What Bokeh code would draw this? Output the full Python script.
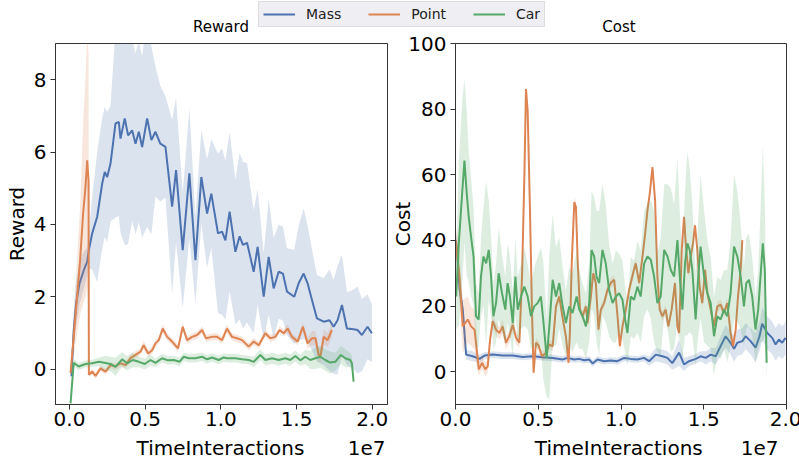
import numpy as np
from bokeh.plotting import figure
from bokeh.layouts import column, row
from bokeh.models import Range1d, Legend, LegendItem, Label, NumeralTickFormatter, FixedTicker
from bokeh.embed import file_html
from bokeh.resources import INLINE

FONT = "DejaVu Sans"
BLUE, ORANGE, GREEN = "#4c72b0", "#dd8452", "#55a868"
SPINE = "#333333"

# ---------------- data (TimeInteractions in units of 1e7) ----------------
series_names = ["Mass", "Point", "Car"]
x_label = "TimeInteractions"
x_multiplier = "1e7"
x_ticks = [0.0, 0.5, 1.0, 1.5, 2.0]
reward_ticks = [0, 2, 4, 6, 8]
cost_ticks = [0, 20, 40, 60, 80, 100]

# Reward - Mass
mass_r_t = [0.013, 0.028, 0.044, 0.066, 0.095, 0.117, 0.128, 0.15, 0.183, 0.216,
            0.233, 0.249, 0.271, 0.304, 0.326, 0.337, 0.365, 0.387, 0.414, 0.436,
            0.458, 0.48, 0.513, 0.541, 0.568, 0.60, 0.634, 0.678, 0.704, 0.748,
            0.792, 0.832, 0.871, 0.909, 0.937, 0.981, 1.008, 1.03, 1.058, 1.096,
            1.124, 1.146, 1.173, 1.217, 1.243, 1.283, 1.316, 1.349, 1.382, 1.41,
            1.437, 1.485, 1.514, 1.547, 1.573, 1.602, 1.635, 1.679, 1.718, 1.745,
            1.771, 1.80, 1.833, 1.877, 1.903, 1.932, 1.969, 1.998]
mass_r_mean = [-0.2, 1.08, 1.82, 2.37, 2.74, 2.97, 3.29, 3.75, 4.21, 5.13,
               5.45, 5.31, 5.68, 6.79, 6.83, 6.37, 6.93, 6.46, 6.60, 6.23,
               6.56, 6.14, 6.93, 6.33, 6.56, 6.23, 6.14, 4.49, 5.50, 3.29,
               5.41, 3.01, 5.31, 4.30, 4.85, 3.75, 3.80, 3.56, 4.35, 3.24,
               3.67, 3.43, 3.49, 2.69, 3.38, 2.00, 3.10, 2.23, 2.69, 2.64,
               2.14, 2.00, 2.37, 2.64, 2.37, 1.91, 1.40, 1.31, 1.35, 1.17,
               1.35, 1.77, 1.12, 1.10, 1.08, 0.94, 1.17, 0.99]
mass_r_std = [0.2, 0.5, 0.6, 0.6, 0.5, 0.4, 0.5, 1.0, 1.8, 1.8,
              1.8, 1.8, 1.6, 2.6, 2.6, 2.6, 3.5, 3.0, 2.5, 2.5,
              2.5, 2.5, 3.0, 2.6, 1.8, 1.6, 1.4, 2.4, 2.0, 1.6,
              1.8, 1.2, 1.3, 1.5, 1.5, 2.2, 2.3, 2.2, 2.2, 2.0,
              2.3, 2.3, 2.2, 1.7, 1.6, 1.2, 1.6, 1.4, 1.3, 1.3,
              1.2, 1.3, 1.6, 1.8, 1.6, 1.4, 1.2, 1.2, 1.4, 1.3,
              1.5, 1.4, 1.0, 1.1, 1.2, 1.0, 0.9, 0.8]

# Reward - Point
point_r_t = [0.007, 0.04, 0.07, 0.09, 0.105, 0.117, 0.126, 0.128, 0.15, 0.172,
             0.205, 0.238, 0.271, 0.304, 0.337, 0.37, 0.403, 0.436, 0.469, 0.49,
             0.52, 0.546, 0.568, 0.59, 0.616, 0.645, 0.678, 0.717, 0.748, 0.777,
             0.81, 0.843, 0.876, 0.902, 0.942, 0.975, 1.008, 1.04, 1.074, 1.107,
             1.14, 1.184, 1.217, 1.25, 1.294, 1.327, 1.36, 1.388, 1.415, 1.441,
             1.47, 1.507, 1.542, 1.573, 1.602, 1.625, 1.646, 1.66, 1.679, 1.705,
             1.734]
point_r_mean = [-0.11, 1.5, 3.0, 4.3, 5.0, 5.77, 5.2, -0.16, -0.07, -0.19,
                0.02, -0.07, 0.11, 0.07, 0.16, 0.11, 0.30, 0.39, 0.48, 0.66,
                0.43, 0.52, 0.71, 0.80, 1.12, 0.89, 0.76, 0.57, 1.17, 0.80,
                0.89, 0.94, 1.08, 0.85, 0.89, 0.89, 0.80, 1.12, 0.89, 0.85,
                0.80, 0.62, 0.76, 0.66, 0.99, 0.85, 0.89, 1.08, 0.99, 1.12,
                0.89, 0.76, 1.17, 0.71, 0.85, 0.85, 0.39, 0.39, 0.89, 0.80,
                1.08]
point_r_std = [0.1, 0.8, 1.5, 2.5, 3.0, 3.5, 3.5, 0.05, 0.08, 0.08,
               0.08, 0.08, 0.08, 0.1, 0.1, 0.1, 0.1, 0.1, 0.1, 0.12,
               0.1, 0.1, 0.1, 0.1, 0.12, 0.1, 0.1, 0.1, 0.12, 0.1,
               0.1, 0.1, 0.1, 0.1, 0.1, 0.1, 0.1, 0.12, 0.1, 0.1,
               0.1, 0.1, 0.1, 0.1, 0.1, 0.1, 0.1, 0.1, 0.1, 0.12,
               0.1, 0.1, 0.12, 0.15, 0.2, 0.2, 0.2, 0.2, 0.2, 0.2,
               0.2]

# Reward - Car
car_r_t = [0.007, 0.028, 0.061, 0.106, 0.15, 0.194, 0.238, 0.271, 0.304, 0.348,
           0.381, 0.418, 0.458, 0.497, 0.535, 0.568, 0.612, 0.65, 0.689, 0.726,
           0.755, 0.788, 0.832, 0.876, 0.909, 0.942, 0.986, 1.019, 1.04, 1.096,
           1.14, 1.184, 1.217, 1.261, 1.294, 1.338, 1.382, 1.426, 1.459, 1.492,
           1.525, 1.558, 1.591, 1.624, 1.657, 1.69, 1.723, 1.756, 1.793, 1.822,
           1.855, 1.866, 1.877]
car_r_mean = [-0.95, 0.17, 0.07, 0.14, 0.16, 0.20, 0.17, 0.14, 0.06, 0.27,
              0.16, 0.25, 0.20, 0.14, 0.25, 0.17, 0.30, 0.24, 0.25, 0.20,
              0.34, 0.30, 0.30, 0.34, 0.27, 0.32, 0.25, 0.32, 0.30, 0.30,
              0.27, 0.25, 0.20, 0.39, 0.25, 0.30, 0.25, 0.30, 0.25, 0.36,
              0.24, 0.34, 0.25, 0.30, 0.34, 0.25, 0.18, 0.20, 0.39, 0.30,
              0.25, 0.16, -0.35]
car_r_std = [0.05, 0.1, 0.1, 0.1, 0.1, 0.12, 0.2, 0.2, 0.25, 0.2,
             0.2, 0.2, 0.15, 0.15, 0.15, 0.12, 0.12, 0.12, 0.12, 0.12,
             0.12, 0.12, 0.12, 0.12, 0.12, 0.12, 0.12, 0.12, 0.12, 0.12,
             0.12, 0.12, 0.15, 0.15, 0.15, 0.15, 0.15, 0.15, 0.15, 0.15,
             0.15, 0.2, 0.25, 0.3, 0.3, 0.3, 0.3, 0.25, 0.25, 0.25,
             0.2, 0.2, 0.1]

# Cost - Mass
mass_c_t = [0.0, 0.008, 0.025, 0.044, 0.064, 0.104, 0.145, 0.175, 0.225, 0.285,
            0.346, 0.406, 0.466, 0.527, 0.587, 0.647, 0.677, 0.717, 0.747, 0.778,
            0.808, 0.828, 0.858, 0.898, 0.938, 0.978, 1.019, 1.059, 1.099, 1.139,
            1.17, 1.21, 1.25, 1.28, 1.31, 1.351, 1.381, 1.411, 1.452, 1.481,
            1.512, 1.542, 1.572, 1.602, 1.632, 1.662, 1.683, 1.703, 1.733, 1.753,
            1.783, 1.813, 1.837, 1.853, 1.884, 1.914, 1.934, 1.954, 1.974, 1.994]
mass_c_mean = [40.0, 38.0, 25.0, 18.9, 5.2, 4.7, 3.9, 4.9, 5.2, 4.9,
               4.9, 4.5, 4.7, 4.4, 4.2, 3.7, 4.2, 3.7, 3.9, 3.5,
               3.7, 2.5, 3.7, 3.2, 3.4, 3.2, 4.2, 3.9, 3.7, 4.2,
               3.2, 5.2, 4.7, 4.2, 2.6, 5.8, 2.2, 3.2, 3.9, 4.7,
               4.2, 5.2, 4.7, 7.8, 10.8, 8.8, 7.0, 8.8, 9.3, 10.8,
               9.3, 7.3, 10.8, 14.6, 11.8, 10.3, 8.3, 9.8, 8.8, 10.3]
mass_c_std = [3, 3, 3, 3, 1.5, 1.5, 1.2, 1, 1, 1,
              1, 1, 1, 1, 1, 1, 1, 1, 1, 1,
              1, 1, 1, 1, 1, 1, 1, 1, 1, 1,
              1.5, 2, 2, 2, 2, 4, 2, 1.5, 1.5, 1.5,
              2, 2, 2.5, 3, 3.5, 3.5, 4, 4, 4, 4,
              4, 4.5, 4.5, 5, 5, 5, 5, 5, 5, 5]

# Cost - Point
point_c_t = [0.0, 0.024, 0.044, 0.074, 0.094, 0.115, 0.128, 0.141, 0.16, 0.18,
             0.195, 0.209, 0.225, 0.245, 0.265, 0.285, 0.305, 0.325, 0.346, 0.366,
             0.386, 0.402, 0.416, 0.426, 0.436, 0.45, 0.462, 0.472, 0.486, 0.502,
             0.522, 0.546, 0.567, 0.587, 0.607, 0.627, 0.647, 0.667, 0.683, 0.691,
             0.703, 0.718, 0.728, 0.738, 0.752, 0.768, 0.788, 0.798, 0.818, 0.832,
             0.848, 0.864, 0.878, 0.898, 0.918, 0.938, 0.959, 0.979, 0.993, 1.009,
             1.029, 1.049, 1.073, 1.089, 1.11, 1.13, 1.146, 1.16, 1.174, 1.19,
             1.206, 1.22, 1.234, 1.25, 1.27, 1.286, 1.306, 1.326, 1.341, 1.351,
             1.367, 1.381, 1.391, 1.407, 1.421, 1.435, 1.447, 1.461, 1.475, 1.491,
             1.508, 1.522, 1.542, 1.562, 1.582, 1.602, 1.622, 1.642, 1.662, 1.677,
             1.693, 1.707, 1.723, 1.733]
point_c_mean = [40.1, 29.0, 13.8, 15.9, 13.8, 12.8, 6.8, 0.7, 2.7, 0.7,
                1.7, 9.8, 15.4, 12.8, 11.8, 13.8, 8.8, 10.8, 14.3, 10.3,
                8.8, 29.0, 59.3, 86.1, 79.5, 49.2, 18.9, -0.3, 8.8, 8.0,
                4.7, 5.7, 8.3, 7.7, 19.9, 22.9, 16.4, 10.8, 2.7, 11.8,
                34.0, 51.7, 50.1, 34.0, 18.9, 16.9, 19.9, 14.8, 22.9, 30.0,
                27.0, 12.8, 18.9, 20.9, 24.9, 27.0, 28.0, 16.9, 7.8, 13.8,
                18.9, 24.9, 30.0, 33.0, 27.0, 35.1, 42.1, 49.2, 54.3, 62.3,
                52.2, 29.0, 18.9, 16.9, 18.9, 13.8, 18.9, 27.0, 13.8, 11.8,
                37.1, 47.2, 39.1, 30.0, 35.1, 39.1, 44.6, 37.1, 26.0, 20.9,
                31.0, 23.9, 18.9, 13.8, 19.9, 20.4, 17.9, 20.9, 11.8, 7.8,
                12.8, 22.9, 31.0, 40.1]
point_c_std = [5, 8, 8, 7, 6, 6, 5, 2, 2, 2,
               2, 2, 2, 2, 2, 2, 2, 2, 2, 2,
               1.5, 1.5, 1.5, 1.5, 1.5, 1.5, 1.5, 1.5, 1.5, 1.5,
               1.5, 1.5, 1.5, 1.5, 1.5, 1.5, 1.5, 1.5, 1.5, 1.5,
               1.5, 1.5, 1.5, 1.5, 1.5, 1.5, 1.5, 1.5, 1.5, 1.5,
               1.5, 1.5, 1.5, 1.5, 1.5, 1.5, 1.5, 1.5, 1.5, 1.5,
               1.5, 1.5, 1.5, 1.5, 1.5, 1.5, 1.5, 1.5, 1.5, 1.5,
               1.5, 1.5, 1.5, 1.5, 1.5, 1.5, 1.5, 1.5, 1.5, 1.5,
               1.5, 1.5, 1.5, 1.5, 1.5, 1.5, 1.5, 1.5, 1.5, 1.5,
               1.5, 1.5, 1.5, 1.5, 1.5, 1.5, 1.5, 1.5, 1.5, 1.5,
               1.5, 1.5, 1.5, 1.5]

# Cost - Car
car_c_t = [0.004, 0.02, 0.04, 0.054, 0.068, 0.08, 0.094, 0.109, 0.124, 0.14,
           0.154, 0.169, 0.185, 0.201, 0.215, 0.229, 0.245, 0.261, 0.281, 0.301,
           0.315, 0.329, 0.346, 0.362, 0.376, 0.396, 0.416, 0.436, 0.456, 0.476,
           0.496, 0.516, 0.53, 0.551, 0.567, 0.587, 0.607, 0.627, 0.647, 0.667,
           0.687, 0.707, 0.732, 0.748, 0.768, 0.788, 0.808, 0.822, 0.838, 0.852,
           0.868, 0.888, 0.908, 0.928, 0.949, 0.969, 0.989, 1.009, 1.025, 1.039,
           1.059, 1.079, 1.099, 1.119, 1.14, 1.16, 1.18, 1.2, 1.22, 1.24,
           1.261, 1.281, 1.301, 1.321, 1.341, 1.355, 1.371, 1.387, 1.401, 1.415,
           1.431, 1.451, 1.467, 1.481, 1.502, 1.522, 1.542, 1.562, 1.582, 1.602,
           1.622, 1.642, 1.662, 1.683, 1.703, 1.723, 1.743, 1.757, 1.773, 1.793,
           1.813, 1.829, 1.843, 1.857, 1.869, 1.88]
car_c_mean = [22.9, 39.1, 54.2, 64.3, 54.2, 47.2, 41.1, 35.1, 16.9, 15.9,
              29.0, 35.1, 33.0, 37.1, 29.0, 16.9, 20.9, 30.0, 23.9, 18.9,
              27.0, 22.9, 14.8, 29.0, 18.9, 22.9, 25.9, 22.9, 16.9, 19.9,
              20.9, 22.9, 15.9, 4.2, 13.8, 28.0, 22.9, 27.0, 20.0, 14.8,
              19.9, 17.9, 22.9, 18.9, 16.9, 13.8, 20.9, 37.1, 35.1, 29.0,
              27.0, 37.1, 33.0, 24.9, 20.9, 22.9, 23.9, 21.9, 15.9, 11.8,
              22.9, 21.9, 25.9, 22.9, 33.0, 35.1, 34.1, 29.0, 20.9, 22.9,
              37.1, 35.1, 31.0, 29.0, 40.1, 29.0, 18.9, 33.0, 39.1, 37.1,
              31.0, 15.9, 29.0, 38.1, 29.0, 23.9, 20.9, 10.8, 16.9, 15.9,
              18.9, 16.9, 23.9, 38.1, 35.1, 29.0, 19.9, 27.0, 28.0, 22.9,
              12.8, 18.9, 29.0, 39.1, 31.0, 2.7]
car_c_std = [10, 25, 28, 25, 25, 20, 18, 15, 10, 8,
             12, 15, 25, 15, 12, 10, 12, 14, 12, 10,
             12, 12, 10, 12, 10, 10, 12, 10, 10, 12,
             14, 15, 18, 12, 22, 20, 15, 14, 12, 10,
             12, 12, 14, 12, 10, 10, 12, 18, 18, 20,
             22, 20, 18, 14, 12, 14, 12, 12, 10, 10,
             12, 12, 14, 14, 16, 16, 18, 20, 15, 18,
             20, 22, 25, 22, 25, 20, 15, 22, 28, 25,
             20, 14, 18, 22, 20, 16, 14, 12, 12, 12,
             12, 14, 16, 22, 20, 16, 12, 14, 14, 12,
             10, 12, 20, 30, 20, 5]

# ---------------- layout helpers ----------------
FRAME_H = 361
HDR_H = 36
PLOT_BOTTOM = 31
FTR_H = 24


def make_panel(xr, yr, yticks, ylabel, mbl, mbr, fw, ylab_standoff):
    p = figure(frame_width=fw, frame_height=FRAME_H,
               x_range=Range1d(*xr), y_range=Range1d(*yr),
               output_backend="svg", toolbar_location=None,
               min_border_left=mbl, min_border_right=mbr,
               min_border_top=7, min_border_bottom=PLOT_BOTTOM)
    p.xgrid.visible = False
    p.ygrid.visible = False
    p.outline_line_color = SPINE
    p.outline_line_width = 1
    p.background_fill_color = "white"
    p.border_fill_color = "white"
    p.xaxis.ticker = FixedTicker(ticks=x_ticks)
    p.yaxis.ticker = FixedTicker(ticks=yticks)
    p.xaxis.formatter = NumeralTickFormatter(format="0.0")
    for ax in (p.xaxis[0], p.yaxis[0]):
        ax.axis_line_color = SPINE
        ax.major_tick_line_color = SPINE
        ax.major_tick_out = 5
        ax.major_tick_in = 0
        ax.minor_tick_line_color = None
        ax.major_label_text_font = FONT
        ax.major_label_text_font_size = "20px"
        ax.major_label_text_color = "black"
        ax.axis_label_text_font = FONT
        ax.axis_label_text_font_size = "20px"
        ax.axis_label_text_font_style = "normal"
        ax.axis_label_text_color = "black"
    p.xaxis.major_label_standoff = 2
    p.yaxis.major_label_standoff = 4
    p.yaxis.axis_label = ylabel
    p.yaxis.axis_label_standoff = ylab_standoff
    return p


def add_series(p, t, m, s, color):
    t = np.asarray(t, dtype=float)
    m = np.asarray(m, dtype=float)
    s = np.asarray(s, dtype=float)
    p.varea(x=t, y1=m - s, y2=m + s, fill_color=color, fill_alpha=0.2)
    p.line(t, m, line_color=color, line_width=2)


def text_label(x, y, text, size, align):
    return Label(x=x, y=y, x_units="screen", y_units="screen", text=text,
                 text_align=align, text_baseline="middle", text_font=FONT,
                 text_font_size=size, text_color="black")


left_xr, left_yr = (-0.0925, 2.101), (-0.98, 9.0)
right_xr, right_yr = (0.0, 2.0), (-10.0, 100.0)

left = make_panel(left_xr, left_yr, reward_ticks, "Reward", 55, 1, 332, 2)
add_series(left, mass_r_t, mass_r_mean, mass_r_std, BLUE)
add_series(left, point_r_t, point_r_mean, point_r_std, ORANGE)
add_series(left, car_r_t, car_r_mean, car_r_std, GREEN)

right = make_panel(right_xr, right_yr, cost_ticks, "Cost", 65, 15, 331, -10)
add_series(right, mass_c_t, mass_c_mean, mass_c_std, BLUE)
add_series(right, point_c_t, point_c_mean, point_c_std, ORANGE)
add_series(right, car_c_t, car_c_mean, car_c_std, GREEN)


def strip(h):
    f = figure(width=799, height=h, x_range=Range1d(0, 1), y_range=Range1d(0, 1),
               output_backend="svg", toolbar_location=None,
               x_axis_location=None, y_axis_location=None, min_border=0)
    f.xgrid.visible = False
    f.ygrid.visible = False
    f.outline_line_color = None
    return f


# header: shared legend and subplot titles
hdr = strip(HDR_H)
rs = [hdr.line(x=[-10, -9], y=[-10, -10], line_color=c, line_width=2)
      for c in (BLUE, ORANGE, GREEN)]
legend = Legend(items=[LegendItem(label=n, renderers=[r]) for n, r in zip(series_names, rs)],
                orientation="horizontal", location=(258, 9),
                label_text_font=FONT, label_text_font_size="14px", label_text_color="#222222",
                glyph_width=32, glyph_height=14, label_height=14, label_standoff=11,
                spacing=27, padding=4, margin=0,
                border_line_color="#cccccc", border_line_width=1,
                background_fill_color="#eeeef3", background_fill_alpha=1.0)
hdr.add_layout(legend)
hdr.add_layout(text_label(220.5, 10, "Reward", "15px", "center"))
hdr.add_layout(text_label(618.5, 10, "Cost", "15px", "center"))

# footer: x-axis titles and the 1e7 multipliers under both panels
ftr = strip(FTR_H)
ftr.add_layout(text_label(220.0, 12, x_label, "20px", "center"))
ftr.add_layout(text_label(618.3, 12, x_label, "20px", "center"))
ftr.add_layout(text_label(385.0, 12, x_multiplier, "20px", "right"))
ftr.add_layout(text_label(778.0, 12, x_multiplier, "20px", "right"))

layout = column(hdr, row(left, right), ftr)
open("out.html", "w").write(file_html(layout, INLINE))
